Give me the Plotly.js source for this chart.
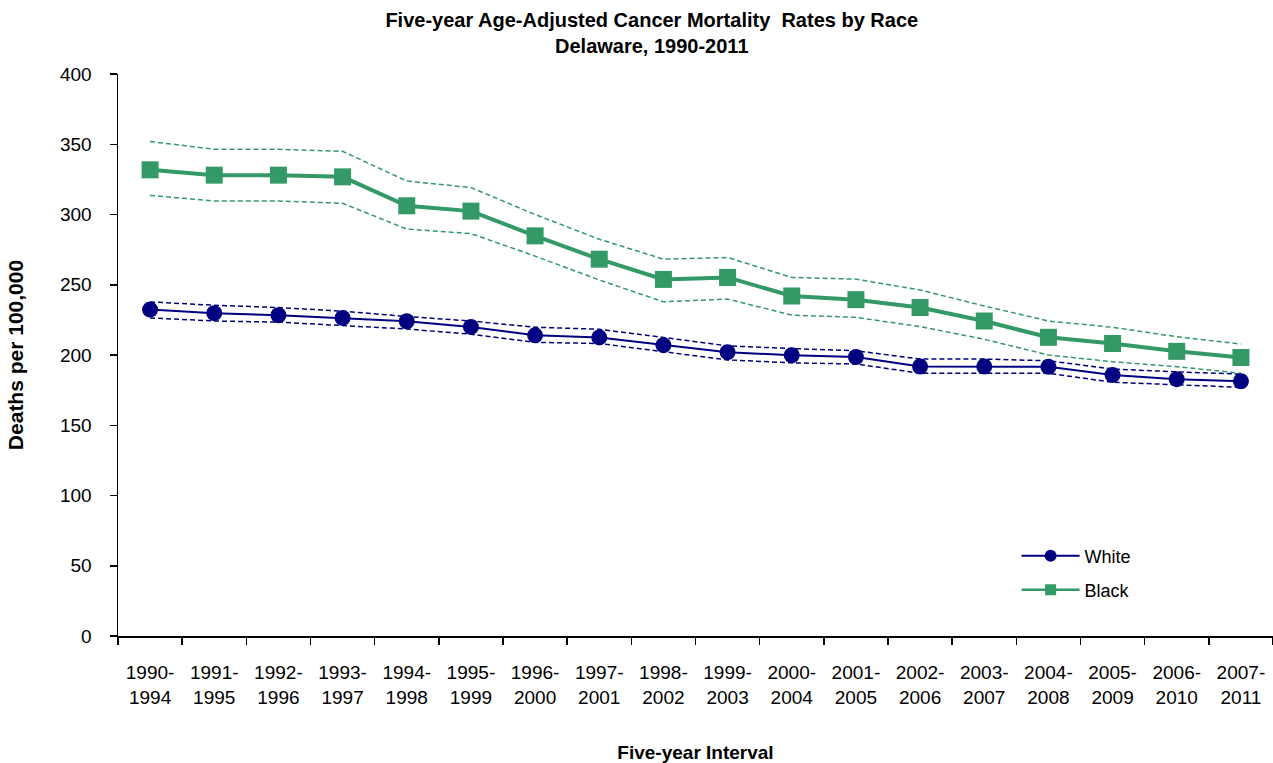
<!DOCTYPE html>
<html>
<head>
<meta charset="utf-8">
<script src="https://cdn.plot.ly/plotly-3.0.1.min.js"></script>
<style>html,body{margin:0;padding:0;background:#fff;}#chart{width:1273px;height:763px;}</style>
</head>
<body>
<div id="chart"></div>
<script>
const intervals = ["1990-<br>1994","1991-<br>1995","1992-<br>1996","1993-<br>1997","1994-<br>1998","1995-<br>1999","1996-<br>2000","1997-<br>2001","1998-<br>2002","1999-<br>2003","2000-<br>2004","2001-<br>2005","2002-<br>2006","2003-<br>2007","2004-<br>2008","2005-<br>2009","2006-<br>2010","2007-<br>2011"];

const whiteRate  = [232.3, 229.8, 228.3, 226.4, 224.0, 220.0, 214.0, 212.5, 207.0, 202.0, 199.8, 198.6, 191.8, 191.8, 191.6, 185.8, 182.8, 181.3];
const whiteUpper = [237.8, 235.4, 233.8, 231.2, 227.4, 224.2, 219.8, 218.3, 212.5, 206.5, 204.6, 203.0, 197.1, 197.1, 195.9, 190.0, 188.0, 186.4];
const whiteLower = [226.4, 224.2, 223.4, 221.0, 218.5, 214.8, 209.0, 208.2, 202.3, 196.5, 194.4, 193.6, 187.0, 187.0, 187.0, 180.6, 178.6, 177.0];

const blackRate  = [331.8, 328.0, 328.0, 326.8, 306.2, 302.4, 284.8, 268.2, 253.8, 255.2, 242.0, 239.4, 233.8, 224.2, 212.6, 208.2, 202.6, 198.2];
const blackUpper = [352.0, 346.4, 346.4, 345.0, 323.8, 319.2, 300.0, 282.4, 268.2, 269.4, 255.2, 254.0, 246.3, 234.9, 224.2, 219.7, 213.0, 207.8];
const blackLower = [313.6, 309.6, 309.6, 308.0, 289.6, 286.4, 270.4, 253.4, 237.9, 239.8, 228.4, 226.8, 220.2, 211.2, 200.0, 195.2, 191.7, 187.0];

const navy = "#000080";
const green = "#339966";
const ciDash = "5px,3px";
const narrow = "'Liberation Sans Narrow', 'Arial Narrow', Arial, sans-serif";

const traces = [
  {x: intervals, y: whiteUpper, type: "scatter", mode: "lines", line: {color: navy, width: 1.5, dash: ciDash}, showlegend: false, hoverinfo: "skip"},
  {x: intervals, y: whiteLower, type: "scatter", mode: "lines", line: {color: navy, width: 1.5, dash: ciDash}, showlegend: false, hoverinfo: "skip"},
  {x: intervals, y: blackUpper, type: "scatter", mode: "lines", line: {color: green, width: 1.5, dash: ciDash}, showlegend: false, hoverinfo: "skip"},
  {x: intervals, y: blackLower, type: "scatter", mode: "lines", line: {color: green, width: 1.5, dash: ciDash}, showlegend: false, hoverinfo: "skip"},
  {x: intervals, y: whiteRate, name: "White", type: "scatter", mode: "lines+markers", showlegend: false,
   line: {color: navy, width: 2}, marker: {color: navy, size: 16, symbol: "circle"}},
  {x: intervals, y: blackRate, name: "Black", type: "scatter", mode: "lines+markers", showlegend: false,
   line: {color: green, width: 4}, marker: {color: green, size: 17, symbol: "square"}},
  // legend-only entries (no data drawn)
  {x: [null], y: [null], name: "White", type: "scatter", mode: "lines+markers", legend: "legend",
   line: {color: navy, width: 2}, marker: {color: navy, size: 12, symbol: "circle"}},
  {x: [null], y: [null], name: "Black", type: "scatter", mode: "lines+markers", legend: "legend2",
   line: {color: green, width: 2.5}, marker: {color: green, size: 11, symbol: "square"}}
];

const legendBase = {
  xanchor: "left", yanchor: "middle",
  bgcolor: "rgba(0,0,0,0)", font: {size: 18, color: "#000"},
  itemwidth: 58
};

const layout = {
  width: 1273, height: 763,
  paper_bgcolor: "#ffffff", plot_bgcolor: "#ffffff",
  margin: {l: 118, r: 0, t: 74, b: 127},
  font: {family: "Arial, 'Liberation Sans', sans-serif", color: "#000000", size: 19},
  title: {
    text: "<b>Five-year Age-Adjusted Cancer Mortality  Rates by Race<br>Delaware, 1990-2011</b>",
    font: {size: 20, family: narrow, color: "#000"},
    x: 0.512, xanchor: "center", y: 0.965, yanchor: "middle"
  },
  xaxis: {
    type: "category",
    range: [-0.5, 17.5],
    showgrid: false, zeroline: false,
    showline: true, linecolor: "#000", linewidth: 1.5,
    ticks: "outside", ticklen: 7, tickcolor: "#000", tickwidth: 1.5,
    tickson: "boundaries",
    tickfont: {size: 19, color: "#000"},
    ticklabelstandoff: 19,
    tickangle: 0,
    title: {text: "<b>Five-year Interval</b>", font: {size: 19, family: narrow}, standoff: 40}
  },
  yaxis: {
    range: [0, 400], dtick: 50,
    showgrid: false, zeroline: false,
    showline: true, linecolor: "#000", linewidth: 1.5,
    ticks: "outside", ticklen: 7, tickcolor: "#000", tickwidth: 1.5,
    tickfont: {size: 19, color: "#000"},
    ticklabelstandoff: 14,
    title: {text: "<b>Deaths per 100,000</b>", font: {size: 21, family: narrow}, standoff: 30}
  },
  legend: Object.assign({x: 0.778, y: 0.1423}, legendBase),
  legend2: Object.assign({x: 0.778, y: 0.0819}, legendBase),
  showlegend: true
};

Plotly.newPlot("chart", traces, layout, {displayModeBar: false, staticPlot: true});
</script>
</body>
</html>
